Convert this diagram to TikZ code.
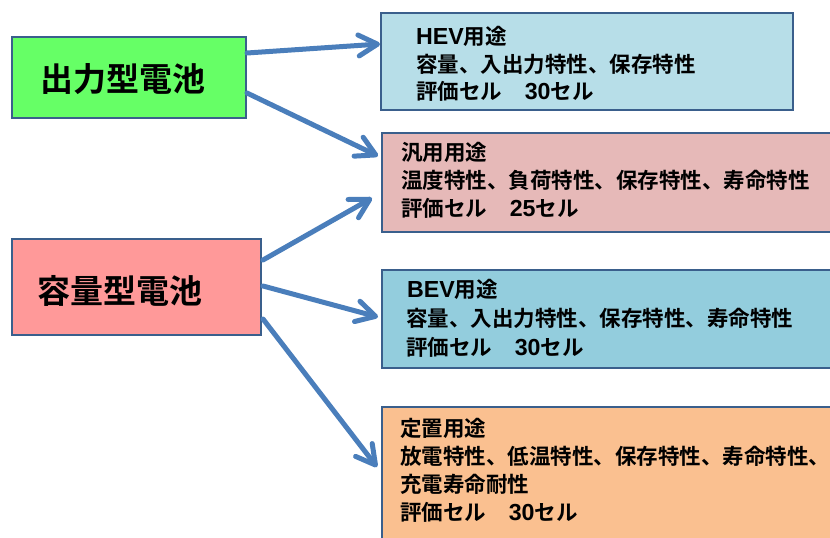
\documentclass[tikz,border=0pt]{standalone}
\usepackage{fontspec}
\newfontfamily\jp{Noto Sans CJK JP}[BoldFont={Noto Sans CJK JP Bold}]
\newfontfamily\lat{Liberation Sans}[Scale=1.08]
\newcommand{\La}[1]{{\lat\bfseries #1}}
\usetikzlibrary{arrows.meta,calc}
\definecolor{bordc}{HTML}{3A5F8C}
\definecolor{arrc}{HTML}{4A7EBB}
\definecolor{cgreen}{HTML}{66FF66}
\definecolor{cpink}{HTML}{FF9999}
\definecolor{chev}{HTML}{B7DEE8}
\definecolor{cgen}{HTML}{E6B9B8}
\definecolor{cbev}{HTML}{93CDDD}
\definecolor{csta}{HTML}{FAC090}
\tikzset{
  box/.style={draw=bordc, line width=2pt, rectangle, anchor=north west, inner sep=0pt},
  bigtxt/.style={anchor=base west, inner sep=0pt, font=\jp\bfseries\fontsize{33pt}{36pt}\selectfont},
  smtxt/.style={anchor=base west, inner sep=0pt, font=\jp\bfseries\fontsize{21.5pt}{26pt}\selectfont},
  conn/.style={draw=arrc, line width=5pt, line cap=round,
    -{Straight Barb[length=19pt,width=21pt,round]}}
}
\begin{document}
\begin{tikzpicture}[x=1pt,y=-1pt]
\useasboundingbox (0,0) rectangle (830,538);
\clip (0,0) rectangle (830,538);
% source boxes
\node[box, fill=cgreen, minimum width=234pt, minimum height=81pt] (out) at (11,36) {};
\node[box, fill=cpink, minimum width=249pt, minimum height=96pt] (cap) at (11,238) {};
\node[bigtxt] (outt) at (40.5,91) {出力型電池};
\node[bigtxt] (capt) at (37.5,303) {容量型電池};
% target boxes
\node[box, fill=chev, minimum width=412pt, minimum height=97pt] (hev) at (380,12) {};
\node[box, fill=cgen, minimum width=460pt, minimum height=99pt] (gen) at (381,132) {};
\node[box, fill=cbev, minimum width=460pt, minimum height=98pt] (bev) at (381,269) {};
\node[box, fill=csta, minimum width=460pt, minimum height=160pt] (sta) at (381,406) {};
% texts
\node[smtxt] (hev1) at (416,44.5) {\La{HEV}用途};
\node[smtxt] (hev2) at (416,72) {容量、入出力特性、保存特性};
\node[smtxt] (hev3) at (416,99.5) {評価セル\hspace{1.05em}\La{30}セル};
\node[smtxt] (gen1) at (401,160.5) {汎用用途};
\node[smtxt] (gen2) at (401,188.5) {温度特性、負荷特性、保存特性、寿命特性};
\node[smtxt] (gen3) at (401,216.5) {評価セル\hspace{1.05em}\La{25}セル};
\node[smtxt] (bev1) at (407,297.5) {\La{BEV}用途};
\node[smtxt] (bev2) at (406,326.5) {容量、入出力特性、保存特性、寿命特性};
\node[smtxt] (bev3) at (406,355.5) {評価セル\hspace{1.05em}\La{30}セル};
\node[smtxt] (sta1) at (400,436.5) {定置用途};
\node[smtxt] (sta2) at (400,464.5) {放電特性、低温特性、保存特性、寿命特性、};
\node[smtxt] (sta3) at (400,492.5) {充電寿命耐性};
\node[smtxt] (sta4) at (400,520.5) {評価セル\hspace{1.05em}\La{30}セル};
% connectors
\draw[conn] ($(out.north east)+(0,17)$) -- ($(hev.north west)+(0,32)$);
\draw[conn] ($(out.north east)+(0,57)$) -- ($(gen.north west)+(-3,24)$);
\draw[conn] ($(cap.north east)+(1,22)$) -- ($(gen.north west)+(-9,66)$);
\draw[conn] ($(cap.north east)+(1,48)$) -- ($(bev.north west)+(-3,48)$);
\draw[conn] ($(cap.north east)+(1,81)$) -- ($(sta.north west)+(-4,61)$);
\end{tikzpicture}
\end{document}
